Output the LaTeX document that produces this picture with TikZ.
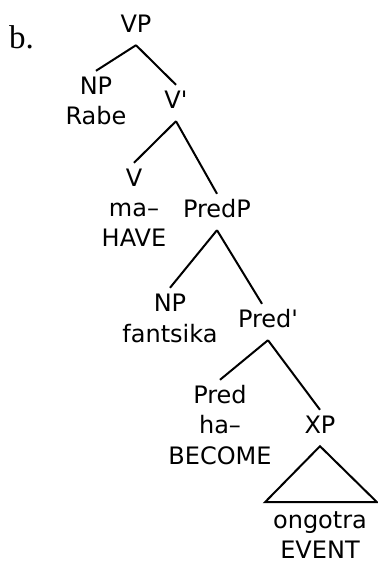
\documentclass[tikz,border=0pt]{standalone}
\usepackage{fontspec}
\newfontfamily\treefont{DejaVu Sans}
\newfontfamily\itemfont{Liberation Serif}
\usetikzlibrary{calc}
\usetikzlibrary{positioning}

\tikzset{
  cat/.style={font=\treefont\fontsize{24}{29}\selectfont,inner sep=6pt,text height=17pt,text depth=7pt,anchor=base},
  word/.style={font=\treefont\fontsize{24}{29}\selectfont,inner sep=0pt},
  branch/.style={draw,line width=2pt},
}

\begin{document}
\begin{tikzpicture}[x=1pt,y=-1pt]

  \useasboundingbox (0,0) rectangle (378,563);

  \node [anchor=base west,inner sep=0pt,font=\itemfont\fontsize{33}{33}\selectfont] (item) at (9,48) {b.};

  % categories
  \node [cat] (vp)      at (136,32)  {VP};
  \node [cat] (np1)     at (96,94)   {NP};
  \node [cat] (vbar)    at (176,108) {V'};
  \node [cat] (v)       at (134,186) {V};
  \node [cat] (predp)   at (217,217) {PredP};
  \node [cat] (np2)     at (170,311) {NP};
  \node [cat] (predbar) at (268,327) {Pred'};
  \node [cat] (pred)    at (220,403) {Pred};
  \node [cat] (xp)      at (320,433) {XP};

  % words
  \node [word,below=30pt of np1.base,anchor=base]   (rabe)     {Rabe};
  \node [word,below=30pt of v.base,anchor=base]     (ma)       {ma–};
  \node [word,below=30pt of ma.base,anchor=base]    (have)     {HAVE};
  \node [word,below=31pt of np2.base,anchor=base]   (fantsika) {fantsika};
  \node [word,below=30pt of pred.base,anchor=base]  (ha)       {ha–};
  \node [word,below=31pt of ha.base,anchor=base]    (become)   {BECOME};
  \node [word,below=95pt of xp.base,anchor=base]    (ongotra)  {ongotra};
  \node [word,below=30pt of ongotra.base,anchor=base] (event)  {EVENT};

  \path [branch]
    (vp.south)      -- (np1.north)
    (vp.south)      -- (vbar.north)
    (vbar.south)    -- (v.north)
    (vbar.south)    -- (predp.north)
    (predp.south)   -- (np2.north)
    (predp.south)   -- ([xshift=-6pt]predbar.north)
    (predbar.south) -- (pred.north)
    (predbar.south) -- (xp.north);

  \coordinate (tri_l) at ($(xp.south)+(-55,56)$);
  \coordinate (tri_r) at ($(xp.south)+(57,56)$);
  \path [branch,line join=miter] (xp.south) -- (tri_l) -- (tri_r) -- cycle;

\end{tikzpicture}
\end{document}
